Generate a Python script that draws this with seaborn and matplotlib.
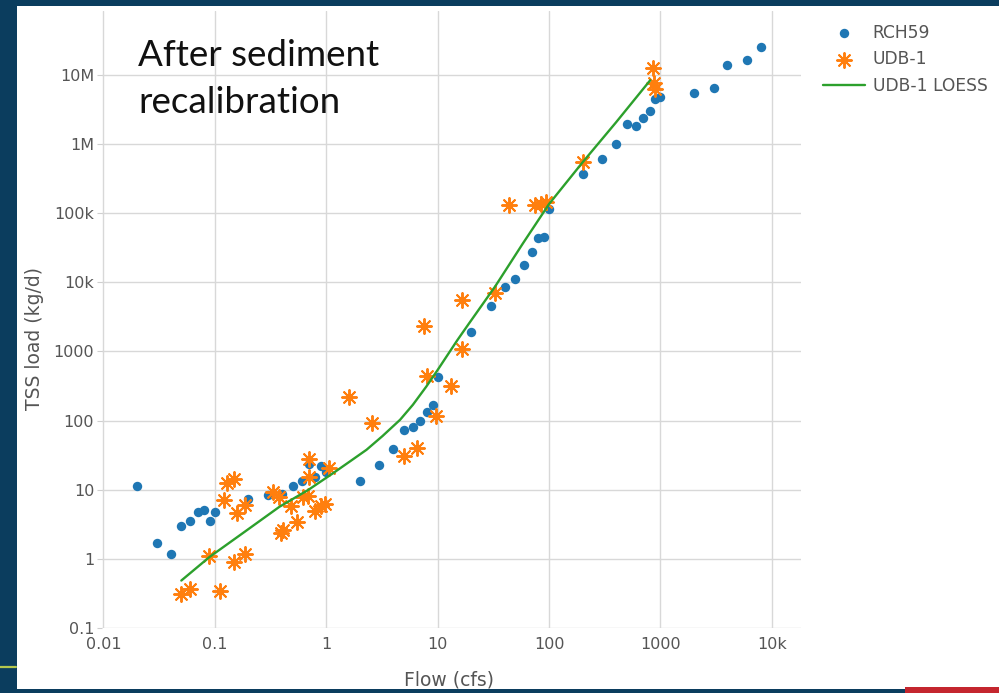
import numpy as np
import pandas as pd
import matplotlib
matplotlib.use("Agg")
import matplotlib.pyplot as plt
import seaborn as sns
from matplotlib.patches import Rectangle
from matplotlib.lines import Line2D
from matplotlib.ticker import FixedLocator, FixedFormatter, NullLocator

# ---------------- data ----------------
rch_flow = [0.02, 0.03, 0.04, 0.05, 0.06, 0.07, 0.08, 0.09, 0.1,
            0.2, 0.3, 0.4, 0.5, 0.6, 0.7, 0.8, 0.9,
            1, 2, 3, 4, 5, 6, 7, 8, 9,
            10, 20, 30, 40, 50, 60, 70, 80, 90,
            100, 200, 300, 400, 500, 600, 700, 800, 900,
            1000, 2000, 3000, 4000, 6000, 8000]
rch_load = [11.5, 1.7, 1.2, 3.0, 3.6, 4.8, 5.2, 3.6, 4.8,
            7.4, 8.4, 8.7, 11.4, 13.5, 24, 15.5, 22,
            18, 13.5, 23, 39, 73, 81, 99, 134, 170,
            430, 1900, 4600, 8500, 11200, 17500, 27000, 43000, 45000,
            115000, 370000, 600000, 1.0e6, 1.95e6, 1.8e6, 2.4e6, 3.0e6, 4.5e6,
            4.7e6, 5.5e6, 6.4e6, 1.4e7, 1.65e7, 2.5e7]

udb_flow = [0.05, 0.06, 0.112, 0.088, 0.15, 0.185, 0.128, 0.15, 0.12, 0.158,
            0.185, 0.33, 0.38, 0.39, 0.41, 0.48, 0.55, 0.62, 0.68, 0.7,
            0.7, 0.8, 0.9, 0.97, 1.06, 1.6, 2.6, 5.0, 6.5, 7.6,
            8.0, 9.6, 13.3, 16.7, 16.4, 33, 44, 75, 85, 94,
            200, 850, 880, 900]
udb_load = [0.31, 0.37, 0.35, 1.1, 0.92, 1.18, 12.4, 14.2, 7.1, 4.7,
            6.0, 9.4, 7.8, 2.4, 2.6, 5.9, 3.4, 7.8, 8.2, 28,
            15.6, 5.0, 5.8, 6.2, 20.5, 218, 93, 31, 40, 2300,
            440, 118, 320, 1080, 5500, 7000, 130000, 130000, 135000, 145000,
            550000, 1.25e7, 7.5e6, 6.2e6]

loess_flow = [0.05, 0.09, 0.18, 0.38, 0.69, 1.15, 1.7, 2.3, 3.2, 4.6, 6.0, 7.9,
              10, 15, 19, 33, 58, 100, 200, 400, 810]
loess_load = [0.49, 1.08, 2.4, 5.7, 10.0, 17.4, 27, 38, 60, 103, 170, 310,
              540, 1450, 2500, 8800, 36000, 135000, 540000, 2.05e6, 8.3e6]

x_ticks = [0.01, 0.1, 1, 10, 100, 1000, 10000]
x_tick_labels = ["0.01", "0.1", "1", "10", "100", "1000", "10k"]
y_ticks = [0.1, 1, 10, 100, 1000, 1e4, 1e5, 1e6, 1e7]
y_tick_labels = ["0.1", "1", "10", "100", "1000", "10k", "100k", "1M", "10M"]

series_names = ["RCH59", "UDB-1", "UDB-1 LOESS"]
title_lines = ["After sediment", "recalibration"]

# ---------------- styling ----------------
sns.set_theme(style="white")
plt.rcParams['font.family'] = ['DejaVu Sans']

W, H = 999, 693
NAVY = '#0b3d5e'
TXT = '#555555'
GRID = '#d8d8d8'

fig = plt.figure(figsize=(W / 100, H / 100), dpi=100, facecolor=NAVY)

# white slide panel
fig.patches.append(Rectangle((17 / W, 1 - 689 / H), (W - 17) / W, (689 - 6) / H,
                             transform=fig.transFigure, facecolor='white',
                             edgecolor='none', zorder=-10))
# slide decorations
fig.lines.append(Line2D([0, 16 / W], [1 - 667 / H, 1 - 667 / H], transform=fig.transFigure,
                        color='#b4c84e', linewidth=1.6, zorder=-5))
fig.patches.append(Rectangle((905 / W, 0), 94 / W, 6 / H, transform=fig.transFigure,
                             facecolor='#c4262e', edgecolor='none', zorder=-5))

ax = fig.add_axes([102 / W, 1 - 628.3 / H, 699 / W, 617.3 / H])
ax.set_facecolor('none')
ax.set_xscale('log')
ax.set_yscale('log')

sns.scatterplot(x=rch_flow, y=rch_load, ax=ax, color='#1f77b4', s=46,
                linewidth=0, marker='o', label=series_names[0], legend=False, zorder=3)
sns.scatterplot(x=udb_flow, y=udb_load, ax=ax, color='#ff7f0e', s=115,
                marker=(8, 2, 0), linewidth=1.4, label=series_names[1], legend=False, zorder=4)
sns.lineplot(x=loess_flow, y=loess_load, ax=ax, color='#2ca02c', linewidth=1.7,
             label=series_names[2], legend=False, sort=False, estimator=None, zorder=5)

ax.set_xlim(0.0097, 18300)
ax.set_ylim(0.1, 8.32e7)

ax.xaxis.set_major_locator(FixedLocator(x_ticks))
ax.xaxis.set_major_formatter(FixedFormatter(x_tick_labels))
ax.yaxis.set_major_locator(FixedLocator(y_ticks))
ax.yaxis.set_major_formatter(FixedFormatter(y_tick_labels))
ax.xaxis.set_minor_locator(NullLocator())
ax.yaxis.set_minor_locator(NullLocator())

ax.grid(True, which='major', color=GRID, linewidth=1.0)
ax.set_axisbelow(True)
for sp in ax.spines.values():
    sp.set_visible(False)

ax.tick_params(axis='y', which='major', left=True, length=3.6, width=0.8,
               color='#cfcfcf', pad=2, labelsize=11.5, labelcolor=TXT, direction='out')
ax.tick_params(axis='x', which='major', bottom=True, length=0, pad=6,
               labelsize=11.5, labelcolor=TXT)

ax.set_xlabel('Flow (cfs)', fontsize=13.5, color=TXT)
ax.set_ylabel('TSS load (kg/d)', fontsize=13.5, color=TXT)
ax.xaxis.label.set_verticalalignment('center')
ax.yaxis.label.set_verticalalignment('center')
ax.xaxis.set_label_coords(0.497, (628.3 - 680) / 617.3)
ax.yaxis.set_label_coords((35 - 102) / 699, 0.47)

# annotation
fig.text(138 / W, 1 - 66 / H, title_lines[0], fontsize=26.5, family=['Lato', 'DejaVu Sans'],
         color='#111111', va='baseline', ha='left')
fig.text(138 / W, 1 - 113 / H, title_lines[1], fontsize=26.5, family=['Lato', 'DejaVu Sans'],
         color='#111111', va='baseline', ha='left')

handles, labels = ax.get_legend_handles_labels()
fig.legend(handles, labels, loc='upper left', bbox_to_anchor=(823 / W, 1 - 23.5 / H),
           frameon=False, fontsize=12.3, handlelength=2.45, handletextpad=0.45,
           labelspacing=0.52, borderpad=0, borderaxespad=0, labelcolor=TXT)

fig.savefig('out.png', dpi=100, facecolor=NAVY)
